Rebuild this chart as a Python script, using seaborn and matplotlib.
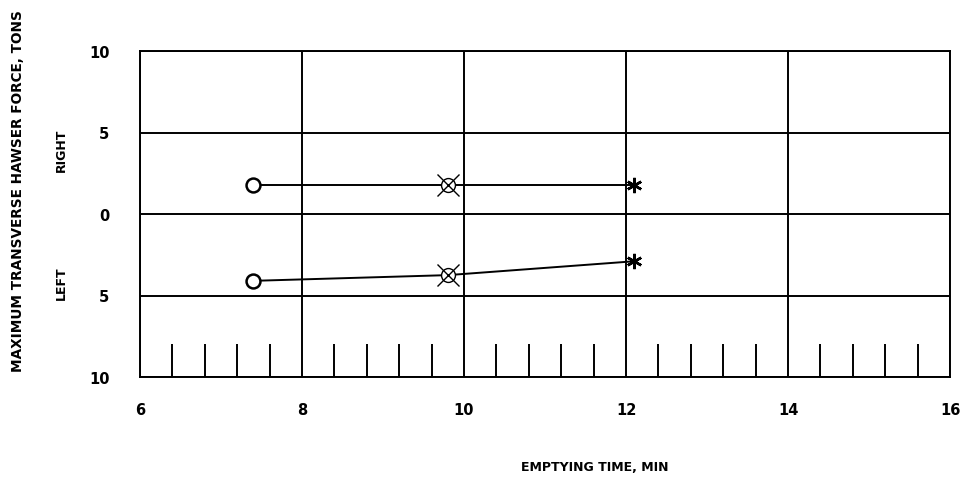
import numpy as np
import pandas as pd
import seaborn as sns
import matplotlib.pyplot as plt

# values
emptying_time = [7.4, 9.8, 12.1]
right_force = [1.8, 1.8, 1.8]
left_force = [-4.1, -3.75, -2.9]
x_ticks = [6, 8, 10, 12, 14, 16]
y_ticks = [-10, -5, 0, 5, 10]
y_tick_labels = ["10", "5", "0", "5", "10"]
minor_x = [6.4, 6.8, 7.2, 7.6, 8.4, 8.8, 9.2, 9.6, 10.4, 10.8, 11.2, 11.6,
           12.4, 12.8, 13.2, 13.6, 14.4, 14.8, 15.2, 15.6]

df = pd.DataFrame({
    "time": emptying_time * 2,
    "force": right_force + left_force,
    "side": ["right"] * 3 + ["left"] * 3,
})

sns.set_style("white")
plt.rcParams['font.family'] = ['DejaVu Sans']
plt.rcParams['font.weight'] = 'bold'
plt.rcParams['text.color'] = 'black'
plt.rcParams['xtick.color'] = 'black'
plt.rcParams['ytick.color'] = 'black'

fig = plt.figure(figsize=(9.64, 4.89), dpi=100)
ax = fig.add_axes([140 / 964, 1 - 378 / 489, 810 / 964, 326 / 489])

sns.lineplot(data=df, x="time", y="force", units="side", estimator=None,
             color="black", lw=1.4, ax=ax, legend=False)

# markers: open circle, crossed circle, asterisk
for force in [right_force, left_force]:
    ax.plot(emptying_time[0], force[0], marker="o", ms=10, mfc="white",
            mec="black", mew=1.8, zorder=5)
    ax.plot(emptying_time[1], force[1], marker="o", ms=10, mfc="white",
            mec="black", mew=1.0, ls="none", zorder=5)
    ax.plot(emptying_time[1], force[1], marker="x", ms=16, mec="black",
            mew=1.0, zorder=6)
    ax.plot(emptying_time[2], force[2], marker=(6, 2, 0), ms=11,
            mec="black", mew=1.8, zorder=5)

ax.set_xlim(6, 16)
ax.set_ylim(-10, 10)
ax.set_xticks(x_ticks)
ax.set_yticks(y_ticks)
ax.set_yticklabels(y_tick_labels)
ax.grid(True, color="black", lw=1.4)
for s in ax.spines.values():
    s.set_color("black")
    s.set_linewidth(1.4)
ax.tick_params(length=0, labelsize=10.5, labelcolor="black")
ax.tick_params(axis="x", pad=18)
ax.tick_params(axis="y", pad=22)

# short marks along bottom
ax.vlines(minor_x, -10, -8, color="black", lw=1.4)

ax.set_xlabel("")
ax.set_ylabel("")
fig.text(0.617, 0.043, "EMPTYING TIME, MIN", ha="center", va="center",
         fontsize=9, fontweight="bold")
fig.text(0.019, 0.61, "MAXIMUM TRANSVERSE HAWSER FORCE, TONS", rotation=90,
         ha="center", va="center", fontsize=9.8, fontweight="bold")
fig.text(0.064, 1 - 150 / 489, "RIGHT", rotation=90, ha="center", va="center",
         fontsize=9, fontweight="bold")
fig.text(0.064, 1 - 283 / 489, "LEFT", rotation=90, ha="center", va="center",
         fontsize=9, fontweight="bold")

fig.savefig("out.png", dpi=100, facecolor="white")
